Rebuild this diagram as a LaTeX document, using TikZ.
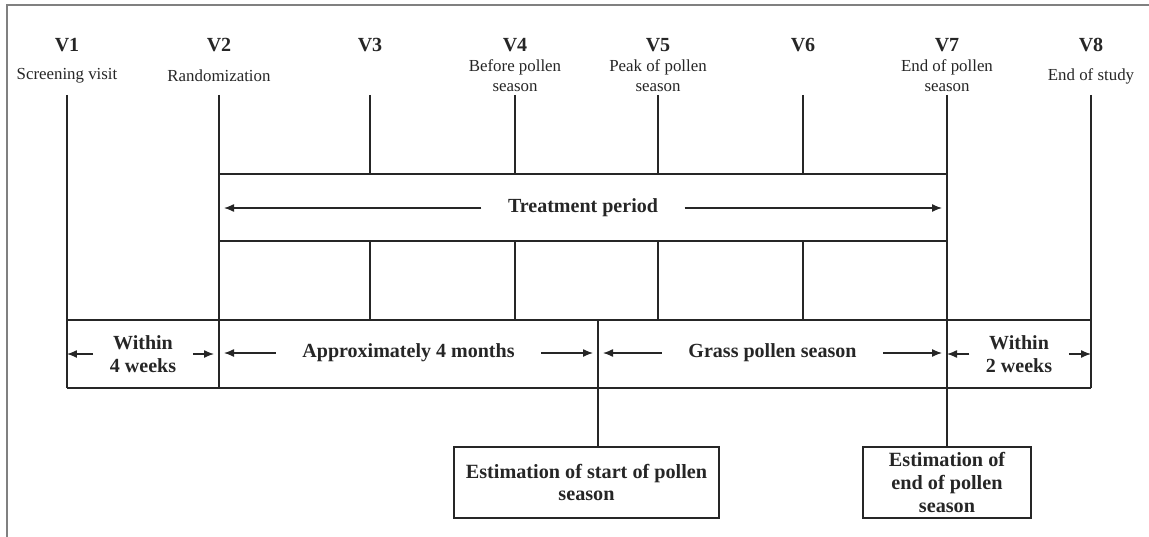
\documentclass[tikz,border=0pt]{standalone}
\usepackage{fontspec}
\setmainfont{Liberation Serif}
\usetikzlibrary{arrows.meta}
\tikzset{
  vlab/.style={font=\fontsize{11.4}{13}\selectfont\bfseries},
  sub/.style={font=\fontsize{9.6}{11.4}\selectfont, align=center},
  lab/.style={font=\fontsize{11.4}{13}\selectfont\bfseries, align=center, inner xsep=0.52cm},
  heavy/.style={line width=1.15pt},
  arr/.style={-{Latex[length=0.2cm,width=0.16cm]}, shorten >=0.1cm},
  estbox/.style={draw, line width=0.9pt, font=\fontsize{11.5}{13}\selectfont\bfseries,
    align=center, inner ysep=0.5pt, minimum height=1.42cm}
}
\begin{document}
\begin{tikzpicture}[x=0.02cm,y=-0.02cm, line width=0.75pt, color=black!85]
				\useasboundingbox (0,0) rectangle (1149,537);
				\draw[gray, line width=1.1pt] (7,537) -- (7,5) -- (1149,5);
				% levels
				\coordinate (ytop) at (0,95);
				\coordinate (ytb) at (0,174);
				\coordinate (ybb) at (0,241);
				\coordinate (ybt) at (0,320);
				\coordinate (ybd) at (0,388);
				\coordinate (split) at (598,320);
				% visits
				\node[vlab] (v1) at (67,45) {V1};
				\node[vlab] (v2) at (219,45) {V2};
				\node[vlab] (v3) at (370,45) {V3};
				\node[vlab] (v4) at (515,45) {V4};
				\node[vlab] (v5) at (658,45) {V5};
				\node[vlab] (v6) at (803,45) {V6};
				\node[vlab] (v7) at (947,45) {V7};
				\node[vlab] (v8) at (1091,45) {V8};
				\node[sub] (s1) at (67,76) {Screening visit};
				\node[sub] (s2) at (219,76) {Randomization};
				\node[sub] (s4) at (515,76) {Before pollen\\season};
				\node[sub] (s5) at (658,76) {Peak of pollen\\season};
				\node[sub] (s7) at (947,76) {End of pollen\\season};
				\node[sub] (s8) at (1091,76) {End of study};
				% boxes
				\node[estbox, minimum width=5.3cm] (startbox) at (586.5,482.5) {Estimation of start of pollen\\season};
				\node[estbox, minimum width=3.36cm] (endbox) at (947,482.5) {Estimation of\\end of pollen\\season};
				% vertical lines
				\draw[heavy] (v1 |- ytop) -- (v1 |- ybd);
				\draw (v2 |- ytop) -- (v2 |- ybd);
				\draw[heavy] (v3 |- ytop) -- (v3 |- ytb);
				\draw[heavy] (v3 |- ybb) -- (v3 |- ybt);
				\draw (v4 |- ytop) -- (v4 |- ytb);
				\draw (v4 |- ybb) -- (v4 |- ybt);
				\draw (v5 |- ytop) -- (v5 |- ytb);
				\draw (v5 |- ybb) -- (v5 |- ybt);
				\draw (v6 |- ytop) -- (v6 |- ytb);
				\draw (v6 |- ybb) -- (v6 |- ybt);
				\draw (v7 |- ytop) -- (endbox.north);
				\draw[heavy] (v8 |- ytop) -- (v8 |- ybd);
				\draw (split) -- (split |- startbox.north);
				% treatment period and bands
				\draw (v2 |- ytb) -- (v7 |- ytb);
				\draw[heavy] (v2 |- ybb) -- (v7 |- ybb);
				\draw (v1 |- ybt) -- (v8 |- ybt);
				\draw[heavy] (v1 |- ybd) -- (v8 |- ybd);
				\node[lab] (treat) at (583,208) {Treatment period};
				\node[lab] (months) at (408.5,353) {Approximately 4 months};
				\node[lab] (grass) at (772.5,353) {Grass pollen season};
				\node[lab, inner xsep=0.32cm] (weeks4) at (143,354) {Within\\4 weeks};
				\node[lab, inner xsep=0.32cm] (weeks2) at (1019,354) {Within\\2 weeks};
				\draw[arr] (treat.west) -- (treat.west -| v2);
				\draw[arr] (treat.east) -- (treat.east -| v7);
				\draw[arr] (months.west) -- (months.west -| v2);
				\draw[arr] (months.east) -- (months.east -| split);
				\draw[arr] (grass.west) -- (grass.west -| split);
				\draw[arr] (grass.east) -- (grass.east -| v7);
				\draw[arr, shorten >=0pt] (weeks4.west) -- (weeks4.west -| v1);
				\draw[arr] (weeks4.east) -- (weeks4.east -| v2);
				\draw[arr, shorten >=0pt] (weeks2.west) -- (weeks2.west -| v7);
				\draw[arr, shorten >=0pt] (weeks2.east) -- (weeks2.east -| v8);
			\end{tikzpicture}
\end{document}
